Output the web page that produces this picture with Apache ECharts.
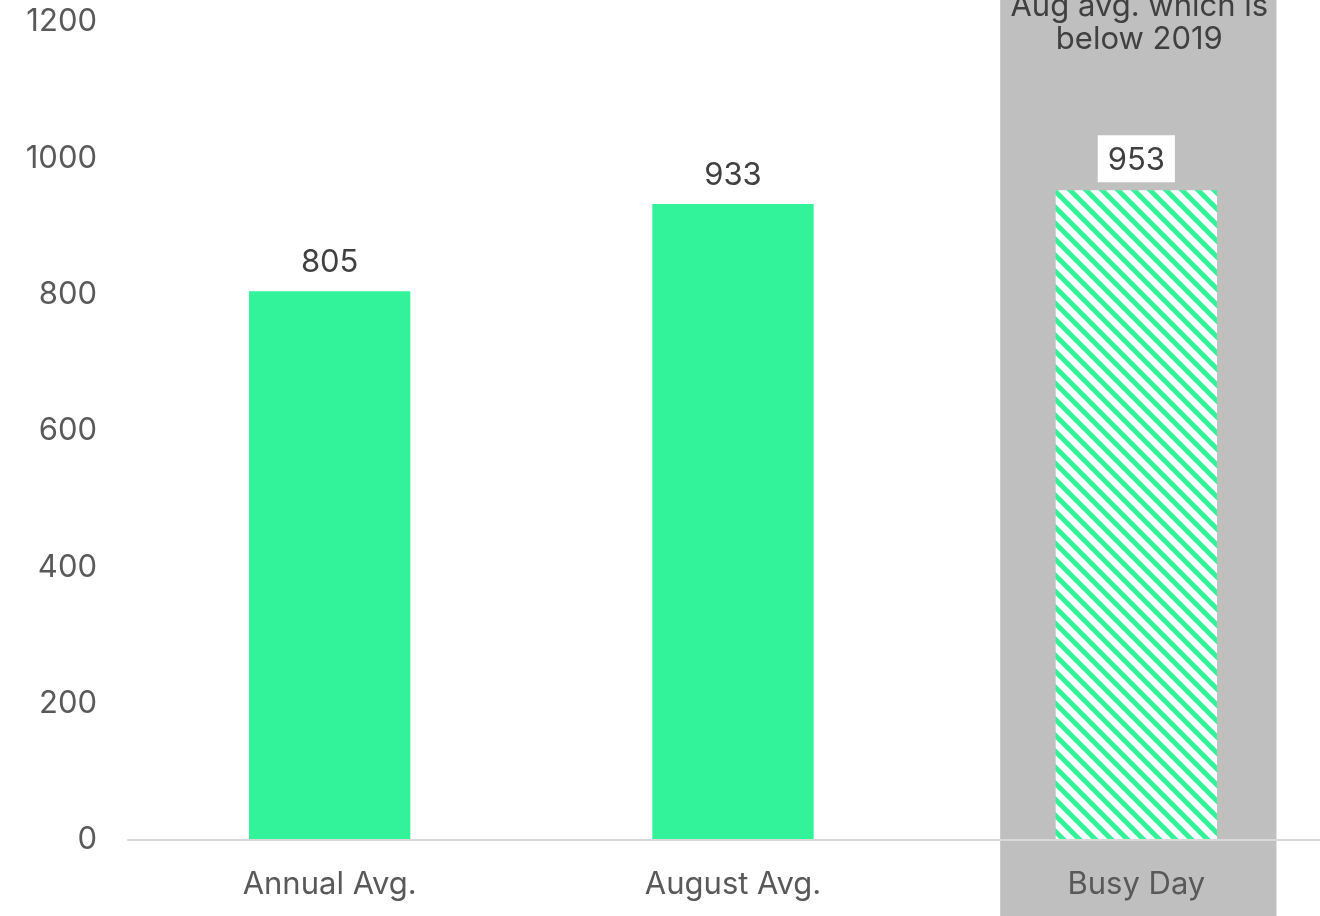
<!DOCTYPE html>
<html>
<head>
<meta charset="utf-8">
<script src="https://cdn.jsdelivr.net/npm/echarts@6/dist/echarts.min.js"></script>
<style>
html,body{margin:0;padding:0;background:#fff;}
#c{width:1320px;height:916px;}
</style>
</head>
<body>
<div id="c"></div>
<script>
const categories = ['Annual Avg.', 'August Avg.', 'Busy Day'];
const values = [805, 933, 953];
const yTicks = [0, 200, 400, 600, 800, 1000, 1200];
const highlightCategory = 'Busy Day';
const annotationLines = ['Aug avg. which is', 'below 2019'];

const FONT = 'Inter, "Noto Sans", sans-serif';
const GREEN = '#33F39A';
const FS = 31;

function hatch() {
  const s = 16;
  const c = document.createElement('canvas');
  c.width = s; c.height = s;
  const g = c.getContext('2d');
  g.fillStyle = '#fff';
  g.fillRect(0, 0, s, s);
  g.strokeStyle = GREEN;
  g.lineWidth = 5;
  g.lineCap = 'square';
  g.beginPath();
  for (let k = -1; k <= 1; k++) {
    g.moveTo(k * s - 2, -2);
    g.lineTo(k * s + s + 2, s + 2);
  }
  g.stroke();
  return c;
}
const pattern = hatch();

const chart = echarts.init(document.getElementById('c'));
const data = values.map((v, i) => {
  if (categories[i] === highlightCategory) {
    return {
      value: v,
      itemStyle: { color: { image: pattern, repeat: 'repeat' } },
      label: { backgroundColor: '#fff', padding: [10, 10, 6, 10], distance: 8 }
    };
  }
  return v;
});

chart.setOption({
  animation: false,
  grid: { left: 128, top: 22, width: 1210, bottom: 76, containLabel: false, outerBoundsMode: 'none' },
  xAxis: {
    type: 'category',
    data: categories,
    axisLine: { lineStyle: { color: '#D9D9D9', width: 2 } },
    axisTick: { show: false },
    axisLabel: { color: '#595959', fontSize: FS, fontFamily: FONT, margin: 29 },
    z: 5
  },
  yAxis: {
    type: 'value',
    min: yTicks[0], max: yTicks[yTicks.length - 1], interval: yTicks[1] - yTicks[0],
    splitLine: { show: false },
    axisLine: { show: false },
    axisTick: { show: false },
    axisLabel: { color: '#595959', fontSize: FS, fontFamily: FONT, margin: 31, formatter: v => String(v) }
  },
  series: [{
    type: 'bar',
    data: data,
    barWidth: '40%',
    itemStyle: { color: GREEN },
    label: {
      show: true, position: 'top', distance: 13,
      color: '#404040', fontSize: FS, fontFamily: FONT
    },
    z: 3
  }]
});

const idx = categories.indexOf(highlightCategory);
const cx = chart.convertToPixel({ xAxisIndex: 0 }, idx);
const cx0 = chart.convertToPixel({ xAxisIndex: 0 }, 0);
const cx1 = chart.convertToPixel({ xAxisIndex: 0 }, 1);
const band = (cx1 - cx0) * 0.685;
chart.setOption({
  graphic: [
    {
      type: 'rect', z: -10, silent: true,
      shape: { x: cx - band / 2 + 2, y: -10, width: band, height: 940 },
      style: { fill: '#BFBFBF' }
    },
    {
      type: 'text', z: 10, silent: true,
      x: cx + 3, y: -10,
      style: {
        text: annotationLines.join('\n'),
        fill: '#404040', font: FS + 'px ' + FONT,
        align: 'center', verticalAlign: 'top', lineHeight: 33
      }
    }
  ]
});
</script>
</body>
</html>
